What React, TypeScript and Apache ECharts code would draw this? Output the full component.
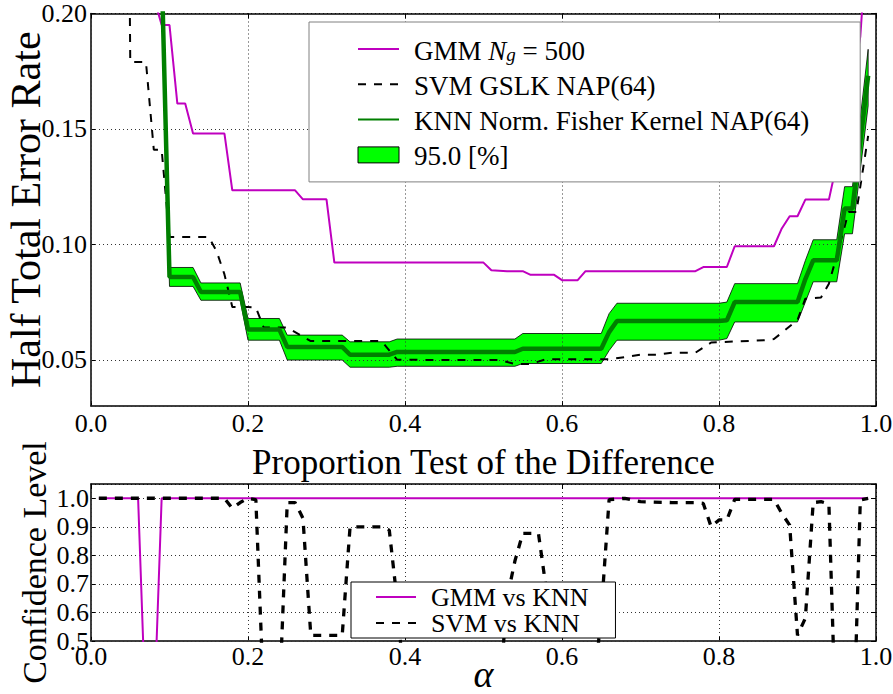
import React, { useEffect, useRef } from 'react';
import * as echarts from 'echarts';

const FONT = 'Liberation Serif';
// single-word family for labels & legend (multi-word names get mangled there)
const FONT1 = 'Times';

// ---------- top panel: Half Total Error Rate vs alpha ----------
const xTickStep = 0.2;
const gmmName = 'GMM N_g = 500';
const svmName = 'SVM GSLK NAP(64)';
const knnName = 'KNN Norm. Fisher Kernel NAP(64)';
const bandName = '95.0 [%]';

const gmmCurve: [number, number][] = [
  [0.08, 0.207], [0.09, 0.195], [0.10, 0.195], [0.11, 0.161], [0.12, 0.161], [0.13, 0.148],
  [0.17, 0.148], [0.18, 0.1234], [0.26, 0.1234], [0.27, 0.1195], [0.30, 0.1195], [0.31, 0.0921],
  [0.50, 0.0921], [0.51, 0.0888], [0.53, 0.0884], [0.55, 0.0884], [0.56, 0.0868], [0.59, 0.0868],
  [0.60, 0.0845], [0.62, 0.0845], [0.63, 0.0884], [0.77, 0.0884], [0.78, 0.0902], [0.81, 0.0902],
  [0.82, 0.0992], [0.87, 0.0992], [0.88, 0.1069], [0.89, 0.1122], [0.90, 0.1122], [0.91, 0.1194],
  [0.94, 0.1194], [0.95, 0.135], [0.96, 0.15], [0.97, 0.17], [0.98, 0.19], [0.99, 0.24],
];

const svmCurve: [number, number][] = [
  [0.04, 0.6], [0.05, 0.179], [0.07, 0.179], [0.08, 0.141], [0.09, 0.141], [0.10, 0.1032],
  [0.15, 0.1032], [0.16, 0.097], [0.17, 0.087], [0.18, 0.0729], [0.20, 0.0729], [0.21, 0.0727],
  [0.22, 0.064], [0.25, 0.064], [0.28, 0.0581], [0.37, 0.0581], [0.39, 0.050], [0.52, 0.0499],
  [0.54, 0.0482], [0.56, 0.0482], [0.58, 0.0503], [0.66, 0.0503], [0.68, 0.0512], [0.70, 0.0522],
  [0.72, 0.0522], [0.74, 0.0531], [0.77, 0.0531], [0.79, 0.0575], [0.86, 0.0585], [0.87, 0.059],
  [0.90, 0.0672], [0.91, 0.0765], [0.93, 0.077], [0.94, 0.083], [0.95, 0.095], [0.965, 0.114],
  [0.975, 0.114], [0.99, 0.147],
];

const knnAlpha = [0.09, 0.10, 0.13, 0.14, 0.19, 0.20, 0.24, 0.25, 0.32, 0.33, 0.38, 0.39, 0.54, 0.55,
  0.65, 0.66, 0.67, 0.80, 0.81, 0.82, 0.90, 0.91, 0.92, 0.95, 0.96, 0.97, 0.99];
const knnMean = [0.22, 0.0859, 0.0859, 0.0794, 0.0794, 0.0631, 0.0631, 0.0556, 0.0556, 0.0522, 0.0522,
  0.0534, 0.0534, 0.0548, 0.0548, 0.062, 0.0668, 0.0668, 0.0671, 0.075, 0.075, 0.085, 0.0931, 0.0931,
  0.1155, 0.1155, 0.173];
const knnHigh = [0.23, 0.090, 0.090, 0.0833, 0.0833, 0.0679, 0.0679, 0.0607, 0.0607, 0.0578, 0.0578,
  0.0590, 0.0590, 0.0614, 0.0614, 0.070, 0.0745, 0.0745, 0.0750, 0.083, 0.083, 0.093, 0.102, 0.102,
  0.125, 0.125, 0.1845];
const knnLow = [0.21, 0.0818, 0.0818, 0.0758, 0.0758, 0.0585, 0.0585, 0.0499, 0.0499, 0.0468, 0.0468,
  0.0472, 0.0472, 0.0484, 0.0484, 0.054, 0.0585, 0.0585, 0.0592, 0.0664, 0.0664, 0.075, 0.0838, 0.0838,
  0.1046, 0.1046, 0.16];

// ---------- bottom panel: Proportion test confidence ----------
const gmmVsKnnName = 'GMM vs KNN';
const svmVsKnnName = 'SVM vs KNN';
const gmmVsKnn: [number, number][] = [
  [0.01, 1.0], [0.06, 1.0], [0.07, 0.22], [0.08, 0.22], [0.09, 1.0], [0.99, 1.0],
];
const svmVsKnn: [number, number][] = [
  [0.01, 1.0], [0.17, 1.0], [0.18, 0.965], [0.19, 0.985], [0.20, 1.0], [0.21, 0.995], [0.22, 0.3],
  [0.24, 0.3], [0.25, 0.985], [0.26, 0.985], [0.27, 0.93], [0.28, 0.52], [0.32, 0.52], [0.33, 0.9],
  [0.37, 0.9], [0.38, 0.888], [0.39, 0.64], [0.40, 0.3], [0.52, 0.3], [0.53, 0.65], [0.54, 0.78],
  [0.55, 0.877], [0.57, 0.877], [0.58, 0.68], [0.59, 0.3], [0.64, 0.3], [0.65, 0.6], [0.66, 0.995],
  [0.68, 1.0], [0.70, 0.988], [0.74, 0.985], [0.77, 0.985], [0.78, 0.982], [0.79, 0.9], [0.80, 0.924],
  [0.81, 0.924], [0.82, 0.996], [0.87, 0.996], [0.88, 0.947], [0.89, 0.906], [0.90, 0.52], [0.91, 0.58],
  [0.92, 0.985], [0.93, 0.988], [0.94, 0.98], [0.95, 0.1], [0.96, 0.1], [0.97, 0.05], [0.98, 0.994],
  [0.99, 1.0],
];

const MAGENTA = '#bf00bf';
const DKGREEN = '#007f00';
const LTGREEN = '#00ff00';

export default function App() {
  const ref = useRef<HTMLDivElement>(null);

  useEffect(() => {
    if (!ref.current) return;
    const chart = echarts.init(ref.current, undefined, { renderer: 'svg' });

    const axisLine = { show: true, onZero: false, lineStyle: { color: '#000', width: 1.5 } };
    const tick = { show: true, inside: true, length: 5, lineStyle: { color: '#000', width: 1 } };
    const grid = { show: true, lineStyle: { color: '#333', width: 1, type: [1, 3] } };
    const label = (digits: number, extra: any = {}) => ({
      show: true, color: '#000', fontFamily: FONT1, fontSize: 26,
      formatter: (v: number) => v.toFixed(digits), ...extra,
    });

    const xBase = { type: 'value', min: 0, max: 1, interval: xTickStep, axisLine, axisTick: tick };
    const yTop = { type: 'value', min: 0.03, max: 0.2, splitNumber: 3, axisLine, axisTick: tick };
    const yBot = { type: 'value', min: 0.5, max: 1.05, interval: 0.1, axisLine, axisTick: tick };

    const richBase = {
      fontFamily: FONT1, fontSize: 27, color: '#000', lineHeight: 30, verticalAlign: 'bottom',
    };
    const hideSym = { opacity: 0 };

    const option: any = {
      animation: false,
      backgroundColor: '#fff',
      textStyle: { fontFamily: FONT1, color: '#000' },
      grid: [
        { left: 91, top: 13.5, width: 785, height: 392.5, outerBoundsMode: 'none', containLabel: false },
        { left: 91, top: 484, width: 785, height: 157, outerBoundsMode: 'none', containLabel: false },
      ],
      xAxis: [
        { ...xBase, gridIndex: 0, position: 'bottom', axisLabel: label(1, { margin: 4 }), splitLine: { show: false } },
        { ...xBase, gridIndex: 0, position: 'top', axisLabel: { show: false }, splitLine: grid, z: 3 },
        {
          ...xBase, gridIndex: 1, position: 'bottom', axisLabel: label(1, { margin: 2 }), splitLine: { show: false },
          name: 'α', nameLocation: 'middle', nameGap: 14, nameMoveOverlap: false,
          nameTextStyle: { fontFamily: FONT, fontSize: 38, fontStyle: 'italic', color: '#000' },
        },
        {
          ...xBase, gridIndex: 1, position: 'top', axisLabel: { show: false }, splitLine: grid, z: 3,
          name: 'Proportion Test of the Difference', nameLocation: 'middle', nameGap: 4, nameMoveOverlap: false,
          nameTextStyle: { fontFamily: FONT, fontSize: 35, color: '#000' },
        },
      ],
      yAxis: [
        {
          ...yTop, gridIndex: 0, position: 'left', axisLabel: label(2, { margin: 4, showMinLabel: false }),
          splitLine: { show: false },
          name: 'Half Total Error Rate', nameLocation: 'middle', nameRotate: 90, nameGap: 44,
          nameMoveOverlap: false,
          nameTextStyle: { fontFamily: FONT, fontSize: 42, color: '#000' },
        },
        { ...yTop, gridIndex: 0, position: 'right', axisLabel: { show: false }, splitLine: grid, z: 3 },
        {
          ...yBot, gridIndex: 1, position: 'left', axisLabel: label(1, { margin: 2, showMaxLabel: false }),
          splitLine: { show: false },
          name: 'Confidence Level', nameLocation: 'middle', nameRotate: 90, nameGap: 40,
          nameMoveOverlap: false,
          nameTextStyle: { fontFamily: FONT, fontSize: 34, color: '#000' },
        },
        { ...yBot, gridIndex: 1, position: 'right', axisLabel: { show: false }, splitLine: grid, z: 3 },
      ],
      legend: [
        {
          orient: 'vertical', left: 309, top: 22, padding: [12, 51, 12, 48], itemGap: 5.3,
          itemWidth: 41, itemHeight: 16, selectedMode: false,
          backgroundColor: '#fff', borderColor: '#808080', borderWidth: 1, borderRadius: 0, z: 6,
          data: [
            { name: gmmName, itemStyle: hideSym },
            { name: svmName, itemStyle: hideSym },
            { name: knnName, itemStyle: hideSym },
            { name: bandName, icon: 'rect', itemStyle: { color: LTGREEN, borderColor: '#000', borderWidth: 1 } },
          ],
          formatter: (name: string) => (name === gmmName ? '{a|GMM }{i|N}{s|g}{n| = 500}' : `{a|${name}}`),
          textStyle: {
            ...richBase,
            rich: {
              a: { ...richBase, padding: [0, 0, 0, 10] },
              n: { ...richBase },
              i: { ...richBase, fontStyle: 'italic' },
              s: { ...richBase, fontSize: 19, fontStyle: 'italic', lineHeight: 13 },
            },
          },
        },
        {
          orient: 'vertical', left: 351, top: 582, padding: [2, 27, 2, 24], itemGap: 0,
          itemWidth: 40, itemHeight: 14, selectedMode: false,
          backgroundColor: '#fff', borderColor: '#000', borderWidth: 1, borderRadius: 0, z: 6,
          data: [{ name: gmmVsKnnName, itemStyle: hideSym }, { name: svmVsKnnName, itemStyle: hideSym }],
          formatter: (name: string) => `{a|${name}}`,
          textStyle: {
            fontFamily: FONT1, fontSize: 26, color: '#000', lineHeight: 26,
            rich: {
              a: { fontFamily: FONT1, fontSize: 26, color: '#000', lineHeight: 26, padding: [0, 0, 0, 10] },
            },
          },
        },
      ],
      series: [
        {
          name: bandName, type: 'custom', xAxisIndex: 0, yAxisIndex: 0, clip: true, z: 1,
          itemStyle: { color: LTGREEN, borderColor: '#000' },
          data: knnAlpha.map((a, i) => [a, knnLow[i], knnHigh[i]]),
          encode: { x: 0, y: [1, 2] },
          renderItem: (params: any, api: any) => {
            if (params.dataIndex !== 0) return null;
            const upper = knnAlpha.map((a, i) => api.coord([a, knnHigh[i]]));
            const lower = knnAlpha.map((a, i) => api.coord([a, knnLow[i]])).reverse();
            const cs = params.coordSys;
            return {
              type: 'group',
              clipPath: { type: 'rect', shape: { x: cs.x, y: cs.y, width: cs.width, height: cs.height } },
              children: [
                {
                  type: 'polygon',
                  shape: { points: upper.concat(lower) },
                  style: { fill: LTGREEN, stroke: '#000', lineWidth: 0.8 },
                },
              ],
            };
          },
        },
        {
          name: gmmName, type: 'line', xAxisIndex: 0, yAxisIndex: 0, data: gmmCurve, symbol: 'none',
          clip: true, color: MAGENTA, lineStyle: { color: MAGENTA, width: 2 },
        },
        {
          name: svmName, type: 'line', xAxisIndex: 0, yAxisIndex: 0, data: svmCurve, symbol: 'none',
          clip: true, color: '#000', lineStyle: { color: '#000', width: 2, type: [8, 8] },
        },
        {
          name: knnName, type: 'line', xAxisIndex: 0, yAxisIndex: 0,
          data: knnAlpha.map((a, i) => [a, knnMean[i]]), symbol: 'none',
          clip: true, color: DKGREEN, lineStyle: { color: DKGREEN, width: 4.5 },
        },
        {
          name: gmmVsKnnName, type: 'line', xAxisIndex: 2, yAxisIndex: 2, data: gmmVsKnn, symbol: 'none',
          clip: true, color: MAGENTA, lineStyle: { color: MAGENTA, width: 2 },
        },
        {
          name: svmVsKnnName, type: 'line', xAxisIndex: 2, yAxisIndex: 2, data: svmVsKnn, symbol: 'none',
          clip: true, color: '#000', lineStyle: { color: '#000', width: 3.3, type: [8, 8] },
        },
      ],
    };

    chart.setOption(option);
    return () => chart.dispose();
  }, []);

  return (
    <div
      ref={ref}
      style={{ position: 'fixed', left: 0, top: 0, width: 893, height: 694, background: '#fff' }}
    />
  );
}
